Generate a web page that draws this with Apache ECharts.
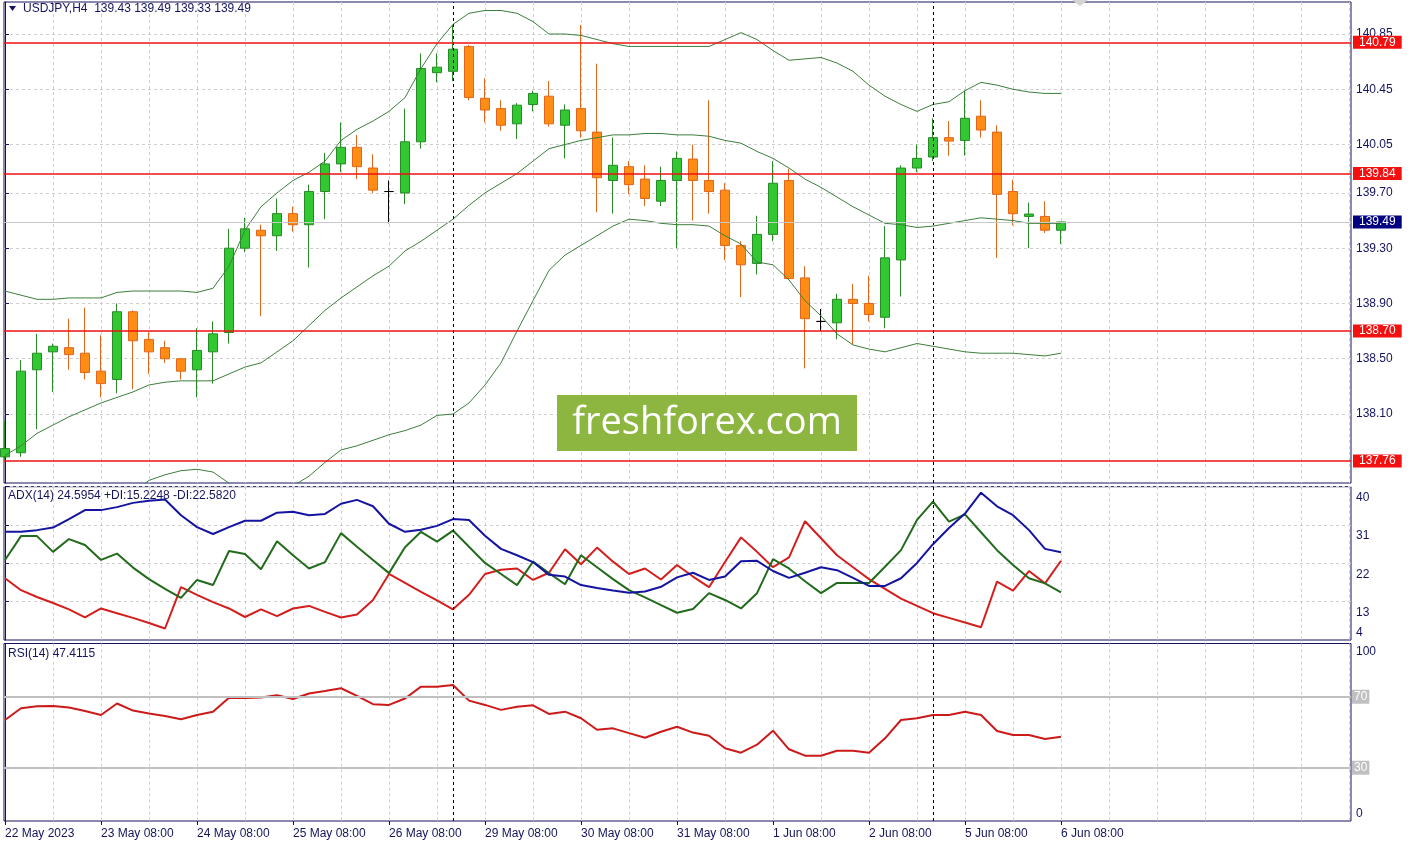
<!DOCTYPE html>
<html><head><meta charset="utf-8">
<script src="https://cdn.jsdelivr.net/npm/echarts@6/dist/echarts.min.js"></script>
<style>html,body{margin:0;padding:0;background:#fff}#c{width:1410px;height:842px}</style>
</head><body><div id="c"></div>
<script>
// ---------- DATA (H4 candles, index 0 = 22 May 2023 08:00) ----------
const opens  = [137.79,137.82,138.42,138.55,138.58,138.54,138.41,138.35,138.84,138.64,
                138.58,138.50,138.42,138.55,138.69,139.30,139.43,139.39,139.55,139.47,
                139.71,139.91,140.03,139.88,139.71,139.70,140.07,140.57,140.58,140.76,
                140.385,140.31,140.20,140.34,140.40,140.19,140.31,140.14,139.79,139.89,
                139.80,139.64,139.79,139.945,139.79,139.72,139.32,139.19,139.40,139.79,
                139.085,138.77,138.76,138.93,138.90,138.80,139.215,139.88,139.96,140.10,
                140.08,140.255,140.14,139.71,139.53,139.53,139.43];
const highs  = [138.05,138.49,138.68,138.61,138.79,138.87,138.67,138.90,138.85,138.69,
                138.63,138.50,138.72,138.77,139.44,139.52,139.47,139.66,139.60,139.76,
                139.99,140.21,140.12,139.98,139.79,140.31,140.71,140.71,140.915,140.77,
                140.53,140.37,140.35,140.44,140.51,140.34,140.915,140.635,140.10,139.93,
                139.90,139.89,140.00,140.05,140.37,139.77,139.35,139.535,139.93,139.875,
                139.17,138.86,138.97,139.04,139.10,139.46,139.90,140.05,140.24,140.22,
                140.44,140.37,140.19,139.795,139.63,139.64,139.49];
const lows   = [137.77,137.79,137.99,138.26,138.42,138.35,138.22,138.25,138.28,138.39,
                138.47,138.35,138.22,138.32,138.61,139.27,138.81,139.28,139.42,139.16,
                139.51,139.85,139.80,139.70,139.48,139.62,140.02,140.50,140.51,140.37,
                140.21,140.15,140.09,140.29,140.18,139.95,140.10,139.56,139.55,139.69,
                139.605,139.605,139.30,139.50,139.55,139.215,138.945,139.11,139.35,139.07,
                138.43,138.70,138.64,138.60,138.77,138.72,138.95,139.85,139.93,139.97,
                139.97,140.10,139.23,139.465,139.30,139.41,139.33];
const closes = [137.85,138.41,138.54,138.59,138.53,138.40,138.32,138.84,138.63,138.55,
                138.50,138.41,138.56,138.68,139.30,139.44,139.39,139.55,139.47,139.71,
                139.91,140.03,139.89,139.72,139.71,140.07,140.60,140.61,140.74,140.39,
                140.30,140.19,140.335,140.42,140.20,140.30,140.15,139.81,139.90,139.76,
                139.66,139.79,139.95,139.79,139.71,139.32,139.18,139.40,139.77,139.08,
                138.79,138.77,138.93,138.90,138.82,139.23,139.88,139.95,140.10,140.075,
                140.24,140.155,139.69,139.55,139.547,139.43,139.49];
const bbUpper  = [138.99,138.96,138.93,138.93,138.94,138.94,138.94,138.98,138.99,138.99,
                  138.99,138.99,138.98,139.01,139.17,139.43,139.60,139.70,139.79,139.85,
                  139.93,140.08,140.16,140.22,140.29,140.39,140.60,140.78,140.92,141.00,
                  141.02,141.02,141.00,140.94,140.85,140.85,140.84,140.81,140.78,140.76,
                  140.76,140.76,140.76,140.76,140.76,140.81,140.86,140.81,140.73,140.66,
                  140.67,140.68,140.64,140.58,140.48,140.40,140.34,140.29,140.34,140.36,
                  140.44,140.50,140.48,140.45,140.43,140.42,140.42];
const bbMiddle = [137.80,137.87,137.96,138.02,138.08,138.13,138.18,138.22,138.26,138.31,
                  138.33,138.34,138.34,138.34,138.39,138.44,138.47,138.55,138.63,138.74,
                  138.85,138.94,139.02,139.10,139.17,139.28,139.35,139.43,139.51,139.61,
                  139.70,139.77,139.84,139.93,140.02,140.05,140.08,140.10,140.12,140.12,
                  140.13,140.13,140.12,140.12,140.11,140.08,140.06,140.00,139.95,139.88,
                  139.80,139.74,139.67,139.60,139.54,139.48,139.47,139.45,139.46,139.48,
                  139.50,139.52,139.51,139.50,139.48,139.48,139.48];
const bbLower  = [136.61,136.78,136.99,137.11,137.22,137.32,137.41,137.46,137.53,137.62,
                  137.66,137.69,137.70,137.68,137.60,137.51,137.40,137.48,137.58,137.65,
                  137.75,137.84,137.87,137.91,137.95,137.98,138.02,138.09,138.10,138.18,
                  138.31,138.47,138.70,138.92,139.14,139.25,139.32,139.39,139.46,139.51,
                  139.50,139.48,139.47,139.47,139.46,139.39,139.33,139.20,139.18,139.07,
                  138.92,138.81,138.68,138.60,138.57,138.55,138.58,138.61,138.59,138.57,
                  138.55,138.54,138.54,138.54,138.53,138.52,138.54];
const adxMain  = [29.4,29.4,29.8,30.4,32.4,34.5,34.5,35.2,36.2,36.7,
                  37.0,33.3,30.5,28.9,30.5,32.0,32.0,33.9,34.1,33.3,
                  33.6,36.0,36.9,35.4,31.3,29.4,29.9,30.8,32.4,32.2,
                  28.5,25.4,23.9,22.3,19.3,18.9,16.9,16.2,15.6,15.1,
                  15.4,16.5,18.7,19.8,18.1,18.9,22.5,22.6,20.2,18.6,
                  19.8,21.1,20.4,18.6,16.7,16.7,18.5,22.1,26.5,30.3,
                  33.7,38.6,35.4,33.3,29.8,25.4,24.6];
const plusDI   = [22.8,28.4,28.4,24.7,27.7,26.3,22.8,24.3,21.0,18.3,
                  16.0,13.9,18.1,16.9,24.9,24.2,20.6,27.2,23.9,20.8,
                  22.3,29.1,25.9,22.8,19.7,25.8,29.4,27.1,29.7,25.9,
                  22.1,19.5,16.9,22.4,19.7,17.1,23.9,21.1,18.3,15.7,
                  14.0,12.2,10.4,11.3,15.0,13.4,11.4,15.0,23.0,20.8,
                  17.8,15.0,17.4,17.4,17.4,21.2,25.1,32.2,36.5,31.8,
                  33.5,29.3,25.1,21.6,18.5,17.3,15.2];
const minusDI  = [18.5,15.7,14.1,12.7,11.2,9.3,11.4,10.3,9.2,8.0,
                  6.7,16.4,14.6,12.9,11.4,9.4,11.2,9.6,11.4,12.0,
                  10.6,9.3,10.0,13.4,19.5,17.4,15.3,13.3,11.2,14.6,
                  19.5,20.5,20.8,18.1,19.8,25.3,21.8,25.7,22.4,19.5,
                  20.8,18.2,21.6,18.9,16.4,22.3,28.1,24.7,21.1,23.4,
                  31.9,27.9,23.9,21.1,18.3,16.0,13.7,12.0,10.3,9.2,
                  8.1,7.0,17.7,15.6,20.2,17.3,22.6];
const rsiVals  = [56.9,63.5,64.7,64.8,64.0,62.0,59.7,66.2,62.2,60.6,
                  59.2,57.3,59.7,61.6,69.5,69.3,69.6,70.8,68.7,71.8,
                  73.2,74.8,70.5,65.8,65.4,69.0,75.7,75.7,76.6,67.8,
                  65.4,62.6,64.4,65.2,60.3,61.6,57.9,51.4,52.2,49.5,
                  46.9,50.3,53.1,49.8,48.0,41.0,38.5,43.0,50.9,40.4,
                  36.8,36.8,39.6,39.6,38.5,46.6,56.9,57.9,59.7,59.7,
                  61.6,59.7,50.7,48.5,48.5,46.2,47.4];
const timeLabels = ['22 May 2023','23 May 08:00','24 May 08:00','25 May 08:00','26 May 08:00',
                    '29 May 08:00','30 May 08:00','31 May 08:00','1 Jun 08:00','2 Jun 08:00',
                    '5 Jun 08:00','6 Jun 08:00'];
const priceTicks = [138.10,138.50,138.90,139.30,139.70,140.05,140.45,140.85];
const levelLines = [140.79,139.84,138.70,137.76];
const currentPrice = 139.49;
const adxTicks = [13,22,31,40];
const rsiLevels = [70,30];
const weekSeparators = [28,58];
const headerText = 'USDJPY,H4  139.43 139.49 139.33 139.49';
const adxText = 'ADX(14) 24.5954 +DI:15.2248 -DI:22.5820';
const rsiText = 'RSI(14) 47.4115';

// ---------- CHART ----------
const navy = '#14145e';
const font = '"Liberation Sans", Arial, sans-serif';
const gridGrey = '#cfcfcf';
const xMin = -0.0625, xMax = 84.125;
const vGrid = []; for (let k = 0; k <= 84; k += 3) vGrid.push(k);
const labelPos = timeLabels.map((_, k) => k * 6);

const candleData = opens.map((o, i) => {
  const it = { value: [i, o, closes[i], lows[i], highs[i]] };
  if (o === closes[i]) it.itemStyle = { color: '#000', color0: '#000', borderColor: '#000', borderColor0: '#000' };
  return it;
});
const pts = arr => arr.map((v, i) => [i, v]);

const sepLines = () => weekSeparators.map(v => ({
  xAxis: v, lineStyle: { color: '#000', type: [3, 3], width: 1, opacity: 1 }, label: { show: false }
}));
const boxLabel = (bg) => ({
  show: true, position: 'end', distance: 2, formatter: p => p.value.toFixed(2), color: '#fff',
  backgroundColor: bg, padding: [1, 6, 0, 6], fontSize: 12, fontFamily: font, lineHeight: 12
});

function xAx(grid) {
  return {
    type: 'value', gridIndex: grid, min: xMin, max: xMax, position: 'bottom',
    axisLine: { show: false }, axisLabel: { show: false },
    axisTick: { show: false, customValues: vGrid },
    splitLine: { show: true, lineStyle: { color: gridGrey, type: [3, 3], width: 1 } }
  };
}

const option = {
  animation: false,
  backgroundColor: '#fff',
  textStyle: { fontFamily: font },
  grid: [
    { left: 4, right: 59, top: 2, height: 481, show: true, borderColor: navy, borderWidth: 1, backgroundColor: '#fff' },
    { left: 4, right: 59, top: 486.7, height: 153.3, show: true, borderColor: navy, borderWidth: 1, backgroundColor: '#fff' },
    { left: 4, right: 59, top: 643.5, height: 177.5, show: true, borderColor: navy, borderWidth: 1, backgroundColor: '#fff' }
  ],
  xAxis: [
    xAx(0), xAx(1), xAx(2),
    {
      type: 'value', gridIndex: 2, min: xMin, max: xMax, position: 'bottom',
      axisLine: { show: false },
      splitLine: { show: false },
      axisTick: { show: true, customValues: labelPos, length: 4, lineStyle: { color: navy } },
      axisLabel: {
        show: true, customValues: labelPos, align: 'left', margin: 7,
        color: navy, fontSize: 12, fontFamily: font,
        formatter: v => timeLabels[Math.round(v / 6)]
      }
    }
  ],
  yAxis: [
    {
      type: 'value', gridIndex: 0, position: 'right', min: 137.6008, max: 141.0816,
      axisLine: { show: true, lineStyle: { color: navy } },
      axisTick: { show: true, customValues: priceTicks, length: 4, lineStyle: { color: navy } },
      axisLabel: { customValues: priceTicks, margin: 5, color: navy, fontSize: 12, fontFamily: font, formatter: v => v.toFixed(2) },
      splitLine: { show: true, lineStyle: { color: gridGrey, type: [3, 3] } }
    },
    {
      type: 'value', gridIndex: 1, position: 'right', min: 4, max: 40,
      axisLine: { show: true, lineStyle: { color: navy } },
      axisTick: { show: true, customValues: adxTicks, length: 4, lineStyle: { color: navy } },
      axisLabel: { customValues: adxTicks, margin: 5, color: navy, fontSize: 12, fontFamily: font, verticalAlign: 'top', lineHeight: 22 },
      splitLine: { show: true, lineStyle: { color: gridGrey, type: [3, 3] } }
    },
    {
      type: 'value', gridIndex: 1, position: 'right', min: 4, max: 40,
      axisLine: { show: false }, axisTick: { show: false }, splitLine: { show: false },
      axisLabel: { customValues: [4], margin: 5, color: navy, fontSize: 12, fontFamily: font, verticalAlign: 'bottom', lineHeight: 14 }
    },
    {
      type: 'value', gridIndex: 2, position: 'right', min: 0, max: 100,
      axisLine: { show: true, lineStyle: { color: navy } },
      axisTick: { show: false }, splitLine: { show: false },
      axisLabel: { customValues: [100], margin: 5, color: navy, fontSize: 12, fontFamily: font, verticalAlign: 'top', lineHeight: 17 }
    },
    {
      type: 'value', gridIndex: 2, position: 'right', min: 0, max: 100,
      axisLine: { show: false }, axisTick: { show: false }, splitLine: { show: false },
      axisLabel: { customValues: [0], margin: 5, color: navy, fontSize: 12, fontFamily: font, verticalAlign: 'bottom', lineHeight: 14 }
    }
  ],
  series: [
    {
      type: 'candlestick', name: 'USDJPY', xAxisIndex: 0, yAxisIndex: 0,
      dimensions: ['idx', 'open', 'close', 'lowest', 'highest'],
      encode: { x: 'idx', y: ['open', 'close', 'lowest', 'highest'] },
      data: candleData, barWidth: 10, z: 2,
      itemStyle: { color: '#32c832', color0: '#ff8c14', borderColor: '#268a26', borderColor0: '#e0661a', borderWidth: 1 }
    },
    { type: 'line', name: 'BB upper', xAxisIndex: 0, yAxisIndex: 0, data: pts(bbUpper), symbol: 'none', lineStyle: { color: '#3c7f3c', width: 1 }, z: 3 },
    { type: 'line', name: 'BB middle', xAxisIndex: 0, yAxisIndex: 0, data: pts(bbMiddle), symbol: 'none', lineStyle: { color: '#3c7f3c', width: 1 }, z: 3 },
    { type: 'line', name: 'BB lower', xAxisIndex: 0, yAxisIndex: 0, data: pts(bbLower), symbol: 'none', lineStyle: { color: '#3c7f3c', width: 1 }, z: 3 },
    {
      type: 'line', name: 'Levels', xAxisIndex: 0, yAxisIndex: 0, data: [], symbol: 'none', z: 4,
      lineStyle: { color: '#ee1010' }, itemStyle: { color: '#ee1010' },
      markLine: {
        silent: true, symbol: ['none', 'none'], animation: false,
        data: sepLines().concat(
          [{ yAxis: currentPrice, lineStyle: { color: '#c8c8c8', type: 'solid', width: 1 }, label: boxLabel('#000080') }],
          levelLines.map(v => ({ yAxis: v, lineStyle: { color: '#ee1010', type: 'solid', width: 1.5 }, label: boxLabel('#f51010') }))
        )
      }
    },
    { type: 'line', name: '-DI', xAxisIndex: 1, yAxisIndex: 1, data: pts(minusDI), symbol: 'none', lineStyle: { color: '#d41e1e', width: 2 },
      markLine: { silent: true, symbol: ['none', 'none'], data: sepLines() } },
    { type: 'line', name: '+DI', xAxisIndex: 1, yAxisIndex: 1, data: pts(plusDI), symbol: 'none', lineStyle: { color: '#236b1c', width: 2 } },
    { type: 'line', name: 'ADX', xAxisIndex: 1, yAxisIndex: 1, data: pts(adxMain), symbol: 'none', lineStyle: { color: '#1414a0', width: 2 } },
    { type: 'line', name: 'RSI', xAxisIndex: 2, yAxisIndex: 3, data: pts(rsiVals), symbol: 'none', lineStyle: { color: '#cc1a1a', width: 2 },
      markLine: {
        silent: true, symbol: ['none', 'none'],
        data: sepLines().concat(rsiLevels.map(v => ({
          yAxis: v, lineStyle: { color: '#c0c0c0', type: 'solid', width: 2 },
          label: { show: true, position: 'end', distance: 1, formatter: p => String(Math.round(p.value)), color: '#fff',
                   backgroundColor: '#c0c0c0', padding: [1, 2, 0, 2], fontSize: 12, fontFamily: font, lineHeight: 13 }
        })))
      } }
  ],
  graphic: [
    { type: 'polygon', shape: { points: [[9, 6], [16, 6], [12.5, 11]] }, style: { fill: navy }, z: 100 },
    { type: 'text', x: 23, y: 9, style: { text: headerText, fill: navy, fontSize: 12, fontFamily: font, verticalAlign: 'middle' }, z: 100 },
    { type: 'text', x: 8, y: 496, style: { text: adxText, fill: navy, fontSize: 12, fontFamily: font, verticalAlign: 'middle' }, z: 100 },
    { type: 'text', x: 8, y: 654, style: { text: rsiText, fill: navy, fontSize: 12, fontFamily: font, verticalAlign: 'middle' }, z: 100 },
    { type: 'polygon', shape: { points: [[1072, 0], [1088, 0], [1080, 6]] }, style: { fill: '#d4d4d4' }, z: 100 },
    { type: 'rect', shape: { x: 557, y: 395, width: 300, height: 56 }, style: { fill: '#8cb63f' }, z: 90 },
    { type: 'text', x: 707, y: 423, style: { text: 'freshforex.com', fill: '#fff', fontSize: 38, fontFamily: '"Open Sans", "DejaVu Sans", sans-serif', align: 'center', verticalAlign: 'middle' }, z: 91 }
  ]
};
const chart = echarts.init(document.getElementById('c'), null, { renderer: 'canvas' });
chart.setOption(option);
</script>
</body></html>
